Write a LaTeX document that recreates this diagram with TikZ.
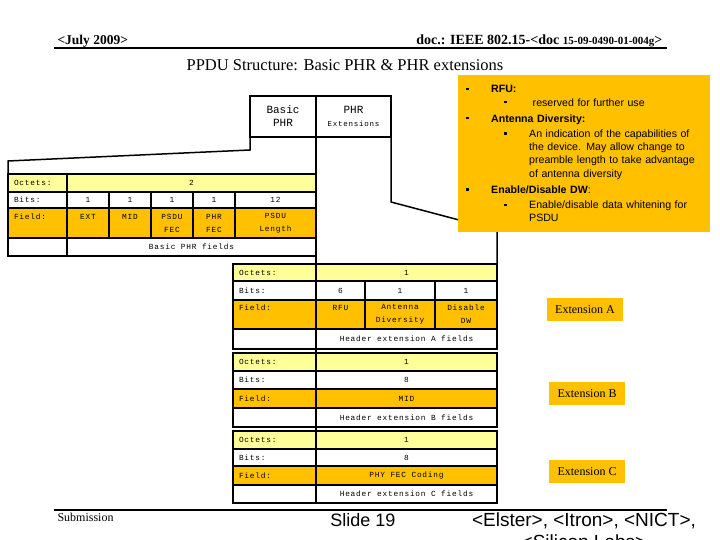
\documentclass[tikz,border=0pt]{standalone}
\usepackage{fontspec}
\setmainfont{Liberation Serif}
\setsansfont{Liberation Sans}
\setmonofont{Liberation Mono}
\newfontfamily\tabfont[LetterSpace=10]{Liberation Mono}
\usetikzlibrary{positioning}
\definecolor{paleyel}{RGB}{255,255,153}
\definecolor{amber}{RGB}{255,192,0}
\newcommand{\sqbul}{\makebox[25pt][l]{\rule[2.6pt]{2.4pt}{2.4pt}}}
\newcommand{\noteitem}[1]{\mbox{\sqbul#1}}
\newcommand{\notesub}[1]{\hspace*{38pt}\mbox{\sqbul#1}}
\newcommand{\notecont}[1]{\hspace*{63pt}\mbox{#1}}

\begin{document}
\begin{tikzpicture}[x=1pt, y=-1pt,
    cell/.style={draw=black, line width=1.4pt, anchor=north west, inner sep=0pt,
        outer sep=0pt, align=center, font=\tabfont\fontsize{7.8}{13}\selectfont},
    sz/.style 2 args={minimum width=#1pt, minimum height=#2pt},
    lab/.style={text width=#1pt, inner xsep=6pt, align=left},
    octets/.style={cell, fill=paleyel},
    bits/.style={cell, fill=white},
    field/.style={cell, fill=amber},
    hdrbox/.style={cell, fill=white, font=\ttfamily\fontsize{11}{13}\selectfont},
    outline/.style={draw=black, line width=1.5pt},
    rulelines/.style={draw=black, line width=1.6pt},
    extlabel/.style={fill=amber, minimum width=76pt, minimum height=23pt,
        inner sep=0pt, font=\fontsize{12}{14}\selectfont},
    notebox/.style={fill=amber, anchor=north west, minimum width=252pt,
        minimum height=157pt, text width=236pt, inner xsep=8pt, inner ysep=0pt,
        align=left, font=\sffamily\fontsize{10.6}{13.3}\selectfont}
]
    \useasboundingbox[fill=white] (0,0) rectangle (720,540);

    \node[font=\bfseries\fontsize{13.5}{15}\selectfont, anchor=base west] (date) at (54,45) {<July 2009>};
    \node[font=\bfseries\fontsize{14}{16}\selectfont, anchor=base east] (docno) at (666,45)
        {doc.: IEEE 802.15-<doc {\fontsize{11}{12}\selectfont 15-09-0490-01-004g}>};
    \draw[rulelines] (54,48) -- (667,48);
    \node[font=\fontsize{16.5}{18}\selectfont] (title) at (345,65) {PPDU Structure: Basic PHR \& PHR extensions};

    \node[hdrbox, sz={66}{41}] (basic) at (250,96) {Basic\\PHR};
    \node[hdrbox, sz={75}{41}] (phrext) at (316,96)
        {PHR\\{\tabfont\fontsize{7.5}{9}\selectfont Extensions}};

    \node[octets, lab=47, sz={59}{18}] (boctl) at (8,174) {Octets:};
    \node[octets, sz={249}{18}] (boct) at (67,174) {2};
    \node[bits, lab=47, sz={59}{16}] (bbitl) at (8,192) {Bits:};
    \node[bits, sz={42}{16}] (bbit1) at (67,192) {1};
    \node[bits, sz={42}{16}] (bbit2) at (109,192) {1};
    \node[bits, sz={42}{16}] (bbit3) at (151,192) {1};
    \node[bits, sz={42}{16}] (bbit4) at (193,192) {1};
    \node[bits, sz={81}{16}] (bbit5) at (235,192) {12};
    \node[field, lab=47, sz={59}{30}] (bfldl) at (8,208) {Field:\\\mbox{}};
    \node[field, sz={42}{30}] (bfld1) at (67,208) {EXT\\\mbox{}};
    \node[field, sz={42}{30}] (bfld2) at (109,208) {MID\\\mbox{}};
    \node[field, sz={42}{30}] (bfld3) at (151,208) {PSDU\\FEC};
    \node[field, sz={42}{30}] (bfld4) at (193,208) {PHR\\FEC};
    \node[field, sz={81}{30}] (bfld5) at (235,208) {PSDU\\Length};
    \node[bits, sz={59}{18}] (bnotel) at (8,238) {};
    \node[bits, sz={249}{18}] (bnote) at (67,238) {Basic PHR fields};

    \node[octets, lab=71, sz={83}{17}] (aoctl) at (233,264) {Octets:};
    \node[octets, sz={181}{17}] (aoct) at (316,264) {1};
    \node[bits, lab=71, sz={83}{19}] (abitl) at (233,281) {Bits:};
    \node[bits, sz={49}{19}] (abit1) at (316,281) {6};
    \node[bits, sz={70}{19}] (abit2) at (365,281) {1};
    \node[bits, sz={62}{19}] (abit3) at (435,281) {1};
    \node[field, lab=71, sz={83}{29}] (afldl) at (233,300) {Field:\\\mbox{}};
    \node[field, sz={49}{29}] (afld1) at (316,300) {RFU\\\mbox{}};
    \node[field, sz={70}{29}] (afld2) at (365,300) {Antenna\\Diversity};
    \node[field, sz={62}{29}] (afld3) at (435,300) {Disable\\DW};
    \node[bits, sz={83}{20}] (anotel) at (233,329) {};
    \node[bits, sz={181}{20}] (anote) at (316,329) {Header extension A fields};

    \node[octets, lab=71, sz={83}{18}] (boctlb) at (233,353) {Octets:};
    \node[octets, sz={181}{18}] (boctb) at (316,353) {1};
    \node[bits, lab=71, sz={83}{18}] (bbitlb) at (233,371) {Bits:};
    \node[bits, sz={181}{18}] (bbitb) at (316,371) {8};
    \node[field, lab=71, sz={83}{19}] (bfldlb) at (233,389) {Field:};
    \node[field, sz={181}{19}] (bfldb) at (316,389) {MID};
    \node[bits, sz={83}{19}] (bnotelb) at (233,408) {};
    \node[bits, sz={181}{19}] (bnoteb) at (316,408) {Header extension B fields};

    \node[octets, lab=71, sz={83}{18}] (coctl) at (233,431) {Octets:};
    \node[octets, sz={181}{18}] (coct) at (316,431) {1};
    \node[bits, lab=71, sz={83}{17}] (cbitl) at (233,449) {Bits:};
    \node[bits, sz={181}{17}] (cbit) at (316,449) {8};
    \node[field, lab=71, sz={83}{19}] (cfldl) at (233,466) {Field:};
    \node[field, sz={181}{19}] (cfld) at (316,466) {PHY FEC Coding};
    \node[bits, sz={83}{18}] (cnotel) at (233,485) {};
    \node[bits, sz={181}{18}] (cnote) at (316,485) {Header extension C fields};

    \coordinate (lbend) at (250,150);
    \coordinate (lfoot) at (8,161);
    \coordinate (rbend) at (391,202);
    \coordinate (rfoot) at (497,230);
    \draw[outline] (basic.south west) -- (lbend) -- (lfoot) -- (boctl.north west);
    \draw[outline] (phrext.south west) -- (cnote.south west);
    \draw[outline] (phrext.south east) -- (rbend) -- (rfoot) -- (aoct.north east);

    \node[notebox] (notes) at (458,75) {%
        \noteitem{\textbf{RFU:}}\\
        \notesub{\ reserved for further use}\\[2.7pt]
        \noteitem{\textbf{Antenna Diversity:}}\\[2pt]
        \notesub{An indication of the capabilities of}\\
        \notecont{the device. May allow change to}\\
        \notecont{preamble length to take advantage}\\
        \notecont{of antenna diversity}\\[2.7pt]
        \noteitem{\textbf{Enable/Disable DW}:}\\[2pt]
        \notesub{Enable/disable data whitening for}\\
        \notecont{PSDU}};

    \node[extlabel] (exta) at (585,309.5) {Extension A};
    \node[extlabel] (extb) at (587,393.5) {Extension B};
    \node[extlabel] (extc) at (587,471.5) {Extension C};

    \draw[rulelines] (54,510) -- (667,510);
    \node[font=\fontsize{12}{14}\selectfont, anchor=base west] (sub) at (54,521) {Submission};
    \node[font=\sffamily\fontsize{18}{20}\selectfont] (slide) at (363,520) {Slide 19};
    \node[font=\sffamily\fontsize{19}{22}\selectfont, align=center, anchor=north] (authors)
        at (584,509) {<Elster>, <Itron>, <NICT>,\\<Silicon Labs>};
\end{tikzpicture}
\end{document}
